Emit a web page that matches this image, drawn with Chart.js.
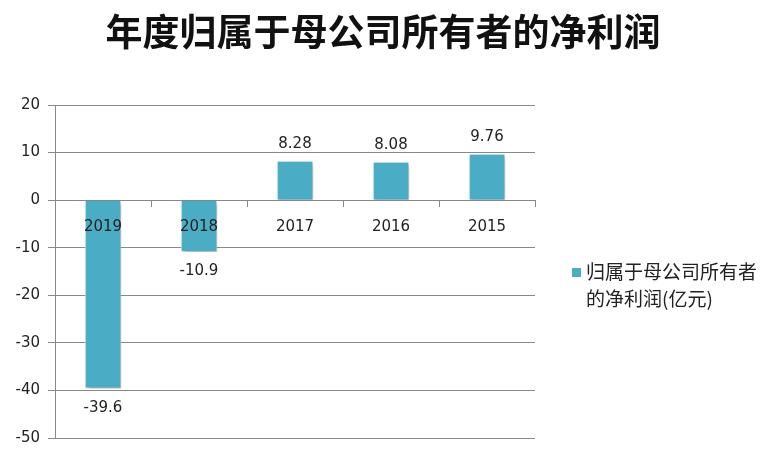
<!DOCTYPE html>
<html>
<head>
<meta charset="utf-8">
<script src="https://cdn.jsdelivr.net/npm/chart.js@4/dist/chart.umd.min.js"></script>
<style>
  body { margin: 0; background: #fff; }
  #wrap { position: relative; width: 766px; height: 455px; }
  #title {
    position: absolute; left: 0; top: 8px; width: 766px; text-align: center;
    font-family: "Noto Sans CJK SC", sans-serif; font-size: 37px; font-weight: bold;
    color: #111; line-height: 44px;
  }
  #legend {
    position: absolute; left: 572px; top: 257px;
    font-family: "Noto Sans CJK SC", sans-serif; font-size: 19px; color: #222;
    line-height: 27px;
  }
  #legend .box {
    display: inline-block; width: 9px; height: 9px; background: #4BACC6;
    margin-right: 5px; vertical-align: 2px;
  }
  #legend .l2 { padding-left: 14px; }
</style>
</head>
<body>
<div id="wrap">
  <canvas id="c" width="766" height="455"></canvas>
  <div id="title"></div>
  <div id="legend">
    <div><span class="box"></span>归属于母公司所有者</div>
    <div class="l2">的净利润(亿元)</div>
  </div>
</div>
<script>
const years = ["2019", "2018", "2017", "2016", "2015"];
const profit = [-39.6, -10.9, 8.28, 8.08, 9.76];
const seriesName = "归属于母公司所有者的净利润(亿元)";
const titleText = "年度归属于母公司所有者的净利润";

document.getElementById("title").textContent = titleText;

const numFont = "15px 'DejaVu Sans', sans-serif";

// Підписи значень і років поверх стовпців
const valueLabels = {
  id: "valueLabels",
  afterDatasetsDraw(chart) {
    const ctx = chart.ctx;
    const meta = chart.getDatasetMeta(0);
    const xScale = chart.scales.x;
    const yZero = chart.scales.y.getPixelForValue(0);
    ctx.save();
    ctx.font = numFont;
    ctx.fillStyle = "#222";
    ctx.textAlign = "center";
    meta.data.forEach((bar, i) => {
      const v = profit[i];
      if (v >= 0) {
        ctx.textBaseline = "bottom";
        ctx.fillText(String(v), bar.x, bar.y - 9);
      } else {
        ctx.textBaseline = "top";
        ctx.fillText(String(v), bar.x, bar.y + 12);
      }
    });
    ctx.textBaseline = "middle";
    years.forEach((y, i) => {
      ctx.fillText(y, xScale.getPixelForValue(i), yZero + 27);
    });
    ctx.restore();
  },
};

// Легка тінь під стовпцями
const barShadow = {
  id: "barShadow",
  beforeDatasetsDraw(chart) {
    const ctx = chart.ctx;
    ctx.save();
    ctx.shadowColor = "rgba(0,0,0,0.3)";
    ctx.shadowBlur = 4;
    ctx.shadowOffsetX = 2;
    ctx.shadowOffsetY = 2;
  },
  afterDatasetsDraw(chart) {
    chart.ctx.restore();
  },
};

new Chart(document.getElementById("c"), {
  type: "bar",
  data: {
    labels: years,
    datasets: [
      {
        label: seriesName,
        data: profit,
        backgroundColor: "#4BACC6",
        borderColor: "#e8f4f8",
        borderWidth: 1,
        barPercentage: 0.38,
        categoryPercentage: 1,
      },
    ],
  },
  options: {
    responsive: false,
    animation: false,
    layout: { padding: { left: 0, right: 231, top: 105, bottom: 17 } },
    plugins: {
      legend: { display: false },
      tooltip: { enabled: false },
      title: { display: false },
    },
    scales: {
      x: {
        position: { y: 0 },
        offset: true,
        grid: {
          offset: true,
          drawOnChartArea: false,
          drawTicks: true,
          tickLength: 6,
          color: "#888",
        },
        border: { color: "#888" },
        ticks: { display: false },
      },
      y: {
        min: -50,
        max: 20,
        afterFit(scale) {
          scale.width = 55;
        },
        ticks: {
          stepSize: 10,
          color: "#222",
          padding: 8,
          font: { family: "'DejaVu Sans', sans-serif", size: 15 },
        },
        grid: { color: "#888", tickLength: 7 },
        border: { color: "#888" },
      },
    },
  },
  plugins: [barShadow, valueLabels],
});
</script>
</body>
</html>
